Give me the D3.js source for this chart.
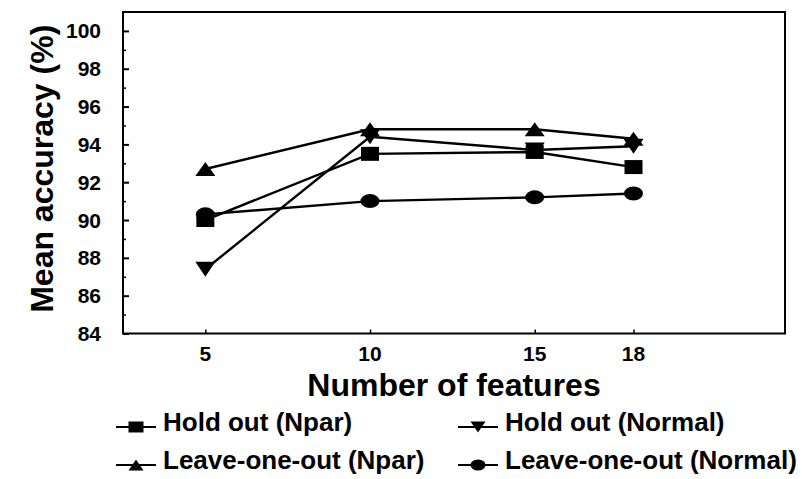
<!DOCTYPE html>
<html>
<head>
<meta charset="utf-8">
<script src="https://cdn.jsdelivr.net/npm/d3@7/dist/d3.min.js"></script>
<style>
  html, body { margin: 0; padding: 0; background: #fff; }
  svg text { font-family: "Liberation Sans", Arial, sans-serif; fill: #000; font-weight: bold; }
</style>
</head>
<body>
<svg id="chart" width="802" height="479"></svg>
<script>
// Number of features on the x axis
const features = [5, 10, 15, 18];

// Mean accuracy (%) for each validation scheme / classifier
const holdOutNpar   = [90.0, 93.5, 93.6, 92.8];
const holdOutNormal = [87.4, 94.4, 93.7, 93.9];
const looNpar       = [92.7, 94.8, 94.8, 94.3];
const looNormal     = [90.3, 91.0, 91.2, 91.4];

const yTickValues = [84, 86, 88, 90, 92, 94, 96, 98, 100];
const yMinorTicks = [85, 87, 89, 91, 93, 95, 97, 99];

const seriesNames  = ["Hold out (Npar)", "Hold out (Normal)", "Leave-one-out (Npar)", "Leave-one-out (Normal)"];
const seriesShapes = ["square", "down", "up", "circle"];
const seriesValues = [holdOutNpar, holdOutNormal, looNpar, looNormal];

const svg = d3.select("#chart");
const plot = { left: 123, right: 785, top: 12, bottom: 333.5 };

const x = d3.scaleLinear().domain([2.5, 22.6]).range([plot.left, plot.right]);
const y = d3.scaleLinear().domain([84, 101]).range([plot.bottom, plot.top]);

// Marker outlines centred on (0,0), width w and height h
function markerPath(shape, w, h) {
  const p = d3.path();
  if (shape === "square") {
    p.rect(-w / 2, -h / 2, w, h);
  } else if (shape === "up") {
    p.moveTo(0, -h / 2); p.lineTo(w / 2, h / 2); p.lineTo(-w / 2, h / 2); p.closePath();
  } else if (shape === "down") {
    p.moveTo(-w / 2, -h / 2); p.lineTo(w / 2, -h / 2); p.lineTo(0, h / 2); p.closePath();
  } else {
    return null;
  }
  return p.toString();
}
function drawMarker(g, shape, cx, cy, w, h) {
  if (shape === "circle") {
    g.append("ellipse").attr("cx", cx).attr("cy", cy)
      .attr("rx", w / 2).attr("ry", h / 2).attr("fill", "#000");
  } else {
    g.append("path").attr("d", markerPath(shape, w, h))
      .attr("transform", `translate(${cx},${cy})`).attr("fill", "#000");
  }
}
const markerSize = {
  square: [18, 14], down: [20, 15], up: [20, 14], circle: [19, 14]
};

// Frame
svg.append("rect")
  .attr("x", plot.left).attr("y", plot.top)
  .attr("width", plot.right - plot.left).attr("height", plot.bottom - plot.top)
  .attr("fill", "none").attr("stroke", "#000").attr("stroke-width", 2);

// Left axis: inward ticks
const yAxis = d3.axisRight(y).tickValues(yTickValues).tickSize(6).tickFormat("");
const yAxisG = svg.append("g").attr("transform", `translate(${plot.left},0)`).call(yAxis);
yAxisG.select(".domain").remove();
yAxisG.selectAll(".tick line").attr("stroke", "#000").attr("stroke-width", 2);

const yMinor = d3.axisRight(y).tickValues(yMinorTicks).tickSize(3).tickFormat("");
const yMinorG = svg.append("g").attr("transform", `translate(${plot.left},0)`).call(yMinor);
yMinorG.select(".domain").remove();
yMinorG.selectAll(".tick line").attr("stroke", "#000").attr("stroke-width", 1.5);

// Y tick labels
svg.append("g").selectAll("text").data(yTickValues).join("text")
  .attr("x", 101).attr("y", d => y(d))
  .attr("dy", "0.36em").attr("text-anchor", "end")
  .attr("font-size", 21)
  .text(d => d);

// Bottom axis: inward ticks
const xAxis = d3.axisTop(x).tickValues(features).tickSize(4).tickFormat("");
const xAxisG = svg.append("g").attr("transform", `translate(0,${plot.bottom})`).call(xAxis);
xAxisG.select(".domain").remove();
xAxisG.selectAll(".tick line").attr("stroke", "#000").attr("stroke-width", 1.5);

svg.append("g").selectAll("text").data(features).join("text")
  .attr("x", d => x(d)).attr("y", 361)
  .attr("text-anchor", "middle")
  .attr("font-size", 21)
  .text(d => d);

// Axis titles
svg.append("text")
  .attr("x", (plot.left + plot.right) / 2).attr("y", 396)
  .attr("text-anchor", "middle").attr("font-size", 32)
  .text("Number of features");

svg.append("text")
  .attr("transform", `translate(53,${(plot.top + plot.bottom) / 2 - 4}) rotate(-90)`)
  .attr("text-anchor", "middle").attr("font-size", 32)
  .text("Mean accuracy (%)");

// Series lines and markers
const line = d3.line().x((d, i) => x(features[i])).y(d => y(d));
const seriesG = svg.append("g");
seriesValues.forEach(vals => {
  seriesG.append("path").datum(vals)
    .attr("d", line).attr("fill", "none")
    .attr("stroke", "#000").attr("stroke-width", 2.4);
});
seriesValues.forEach((vals, s) => {
  const shape = seriesShapes[s];
  const [w, h] = markerSize[shape];
  vals.forEach((v, i) => drawMarker(seriesG, shape, x(features[i]), y(v), w, h));
});

// Legend, two columns by two rows
const legendItems = [
  { col: 0, row: 0 }, { col: 1, row: 0 }, { col: 0, row: 1 }, { col: 1, row: 1 }
];
const legendG = svg.append("g");
legendItems.forEach((pos, s) => {
  const lx = pos.col === 0 ? 116 : 458;
  const ly = pos.row === 0 ? 427 : 465;
  legendG.append("line")
    .attr("x1", lx).attr("x2", lx + 40).attr("y1", ly).attr("y2", ly)
    .attr("stroke", "#000").attr("stroke-width", 2);
  drawMarker(legendG, seriesShapes[s], lx + 20, ly, 15, 11);
  legendG.append("text")
    .attr("x", lx + 47).attr("y", ly + 4)
    .attr("font-size", 26)
    .text(seriesNames[s]);
});
</script>
</body>
</html>
